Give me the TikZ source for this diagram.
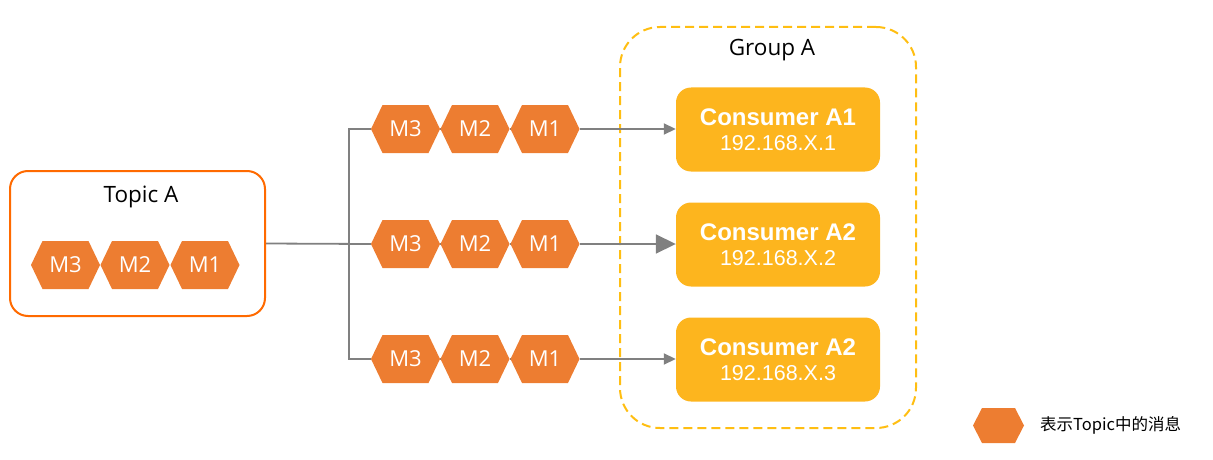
\documentclass[tikz,border=0pt]{standalone}
\usepackage{fontspec}
\setmainfont{Open Sans}
\newfontfamily\consfont{Liberation Sans}
\newfontfamily\cjk{Noto Sans CJK SC}
\usetikzlibrary{arrows.meta,backgrounds}
\definecolor{hexc}{HTML}{ED7D31}
\definecolor{topicc}{HTML}{FF6A00}
\definecolor{consc}{HTML}{FDB51E}
\definecolor{grpc}{HTML}{FFBE12}
\definecolor{linec}{HTML}{808080}
\pgfkeys{/tikz/hexoff/.initial=11.5pt}
\begin{document}
\begin{tikzpicture}[x=1pt,y=-1pt,
  hexn/.style={minimum width=69pt,minimum height=48pt,inner sep=0pt,text=white,
    font=\fontsize{22}{24}\selectfont,
    path picture={\fill[hexc] (path picture bounding box.west)
      -- ([xshift=\pgfkeysvalueof{/tikz/hexoff}]path picture bounding box.north west)
      -- ([xshift=-\pgfkeysvalueof{/tikz/hexoff}]path picture bounding box.north east)
      -- (path picture bounding box.east)
      -- ([xshift=-\pgfkeysvalueof{/tikz/hexoff}]path picture bounding box.south east)
      -- ([xshift=\pgfkeysvalueof{/tikz/hexoff}]path picture bounding box.south west)
      -- cycle;}},
  topicbox/.style={draw=topicc,line width=2pt,rounded corners=18pt,minimum width=255pt,minimum height=145pt},
  groupbox/.style={draw=grpc,line width=2pt,dash pattern=on 9pt off 5pt,rounded corners=40pt,minimum width=296pt,minimum height=401pt},
  consbox/.style={fill=consc,rounded corners=15pt,minimum width=204pt,minimum height=84pt,inner sep=0pt,
    text=white,align=center,font=\consfont\fontsize{21.5}{25.5}\selectfont},
  titletext/.style={font=\fontsize{22.5}{26}\selectfont,text=black},
  conn/.style={draw=linec,line width=1.8pt},
  arrs/.style={conn,-{Triangle[length=12pt,width=11pt]}},
  arrl/.style={conn,-{Triangle[length=20pt,width=19pt]}}
]
\useasboundingbox (0,0) rectangle (1213,460);

% Topic A
\node[topicbox] (topic) at (137.5,243.5) {};
\node[titletext] (topict) at (141,197) {Topic A};
\node[hexn] (t3) at (65.5,265) {M3};
\node[hexn] (t2) at (135,265) {M2};
\node[hexn] (t1) at (205,265) {M1};

% Group A
\node[groupbox] (grp) at (768,227.5) {};
\node[titletext] (grpt) at (772,50) {Group A};

% rows
\foreach \r/\yy in {1/129,2/244,3/359}{
  \node[hexn] (r\r m3) at (405.5,\yy) {M3};
  \node[hexn] (r\r m2) at (475,\yy) {M2};
  \node[hexn] (r\r m1) at (545,\yy) {M1};
}

% consumers
\node[consbox] (c1) at (778,129.5) {{\bfseries\fontsize{24}{25.5}\selectfont Consumer A1}\\192.168.X.1};
\node[consbox] (c2) at (778,244.5) {{\bfseries\fontsize{24}{25.5}\selectfont Consumer A2}\\192.168.X.2};
\node[consbox] (c3) at (778,359.5) {{\bfseries\fontsize{24}{25.5}\selectfont Consumer A2}\\192.168.X.3};

% legend
\node[hexn,hexoff=9pt,minimum width=51pt,minimum height=35pt] (lg) at (998.5,425.5) {};
\node[anchor=west,inner sep=0pt,font=\cjk\fontsize{16.5}{18}\selectfont] (lgt) at (1040,425) {表示Topic中的消息};

\coordinate (jn) at (349,244);
\begin{scope}[on background layer]
  \draw[conn] (topic.east) -- (r2m3.west);
  \draw[conn] (r1m3.west) -| (jn) |- (r3m3.west);
  \draw[conn] (r1m3.east) -- (r1m2.west);
  \draw[conn] (r1m2.east) -- (r1m1.west);
  \draw[conn] (r2m3.east) -- (r2m2.west);
  \draw[conn] (r2m2.east) -- (r2m1.west);
  \draw[conn] (r3m3.east) -- (r3m2.west);
  \draw[conn] (r3m2.east) -- (r3m1.west);
\end{scope}
\draw[arrs] (r1m1.east) -- (c1.west |- r1m1.east);
\draw[arrl] (r2m1.east) -- (c2.west |- r2m1.east);
\draw[arrs] (r3m1.east) -- (c3.west |- r3m1.east);
\end{tikzpicture}
\end{document}
